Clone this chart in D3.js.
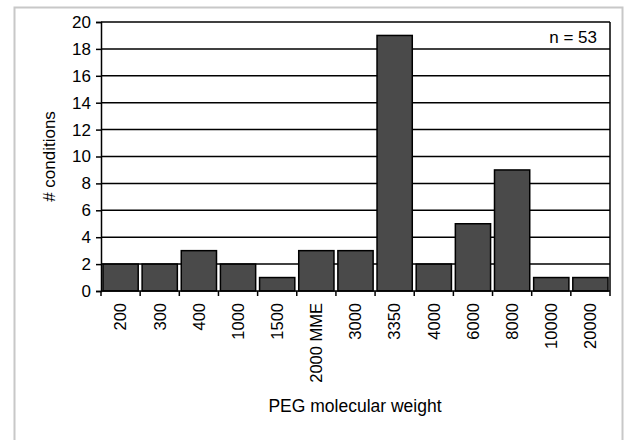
<!DOCTYPE html>
<html>
<head>
<meta charset="utf-8">
<script src="https://cdn.jsdelivr.net/npm/d3@7"></script>
<style>
  body { margin: 0; background: #fff; }
  text { font-family: "Liberation Sans", Arial, sans-serif; fill: #000; }
</style>
</head>
<body>
<div id="grafico"></div>
<script>
// datos
var categorias = ["200", "300", "400", "1000", "1500", "2000 MME", "3000", "3350", "4000", "6000", "8000", "10000", "20000"];
var condiciones = [2, 2, 3, 2, 1, 3, 3, 19, 2, 5, 9, 1, 1];
var ticks_y = [0, 2, 4, 6, 8, 10, 12, 14, 16, 18, 20];
var nota = "n = 53";

var svg = d3.select("#grafico").append("svg")
    .attr("width", 625)
    .attr("height", 440);

// marco exterior
svg.append("rect")
    .attr("x", 14.5).attr("y", 7.5)
    .attr("width", 608).attr("height", 440)
    .attr("fill", "none")
    .attr("stroke", "#c8c8c8")
    .attr("stroke-width", 2);

var margin = {top: 22, left: 101},
    width = 610 - margin.left,
    height = 291 - margin.top;

var g = svg.append("g").attr("transform", "translate(" + margin.left + "," + margin.top + ")");

var x = d3.scaleBand()
    .domain(categorias)
    .range([0, width])
    .paddingInner(0.1)
    .paddingOuter(0.05);

var y = d3.scaleLinear()
    .domain([0, 20])
    .range([height, 0]);

// grilla
g.append("g")
    .selectAll("line")
    .data(ticks_y.slice(1))
    .enter().append("line")
    .attr("x1", 0).attr("x2", width)
    .attr("y1", function(d) { return y(d); })
    .attr("y2", function(d) { return y(d); })
    .attr("stroke", "#000")
    .attr("stroke-width", 1.5);

// borde derecho
g.append("line")
    .attr("x1", width).attr("x2", width)
    .attr("y1", 0).attr("y2", height)
    .attr("stroke", "#000").attr("stroke-width", 1.5);

// barras
g.append("g")
    .selectAll("rect")
    .data(condiciones)
    .enter().append("rect")
    .attr("x", function(d, i) { return x(categorias[i]); })
    .attr("y", function(d) { return y(d); })
    .attr("width", x.bandwidth())
    .attr("height", function(d) { return height - y(d); })
    .attr("fill", "#4a4a4a")
    .attr("stroke", "#000")
    .attr("stroke-width", 1.5);

// eje y
var ejeY = g.append("g")
    .call(d3.axisLeft(y).tickValues(ticks_y).tickSize(5).tickPadding(5));
ejeY.select(".domain").attr("stroke", "#000").attr("stroke-width", 1.5);
ejeY.selectAll(".tick line").attr("stroke-width", 1.5);
ejeY.selectAll("text").attr("font-size", 17).attr("font-family", null);

// eje x con marcas entre categorias
var ejeX = g.append("g").attr("transform", "translate(0," + height + ")");
ejeX.append("line")
    .attr("x1", 0).attr("x2", width)
    .attr("stroke", "#000").attr("stroke-width", 1.5);
ejeX.selectAll("line.marca")
    .data(d3.range(categorias.length + 1))
    .enter().append("line")
    .attr("class", "marca")
    .attr("x1", function(d) { return d * width / categorias.length; })
    .attr("x2", function(d) { return d * width / categorias.length; })
    .attr("y1", 0).attr("y2", 5)
    .attr("stroke", "#000").attr("stroke-width", 1.5);
ejeX.selectAll("text")
    .data(categorias)
    .enter().append("text")
    .attr("transform", function(d) {
        return "translate(" + (x(d) + x.bandwidth() / 2) + ",12) rotate(-90)";
    })
    .attr("text-anchor", "end")
    .attr("dy", "0.35em")
    .attr("font-size", 16.5)
    .text(function(d) { return d; });

// titulos
svg.append("text")
    .attr("x", 355).attr("y", 412)
    .attr("text-anchor", "middle")
    .attr("font-size", 17.5)
    .text("PEG molecular weight");

svg.append("text")
    .attr("transform", "translate(55," + (margin.top + height / 2) + ") rotate(-90)")
    .attr("text-anchor", "middle")
    .attr("font-size", 17)
    .text("# conditions");

svg.append("text")
    .attr("x", 597).attr("y", 43)
    .attr("text-anchor", "end")
    .attr("font-size", 17)
    .text(nota);
</script>
</body>
</html>
